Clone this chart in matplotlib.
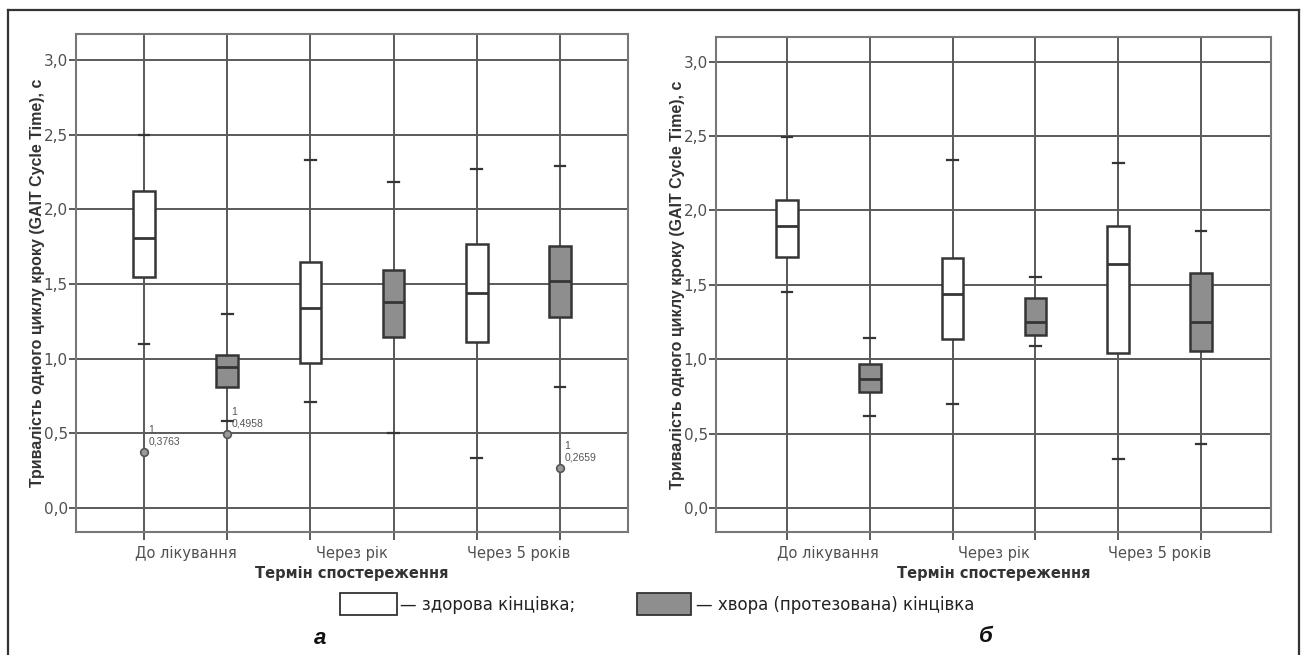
import matplotlib
matplotlib.use("Agg")
import matplotlib.pyplot as plt
from matplotlib.patches import Rectangle
from matplotlib.lines import Line2D

# ---------------- data ----------------
groups = ["До лікування", "Через рік", "Через 5 років"]
# order per panel: [healthy, diseased] x 3 periods
a_whislo = [1.10, 0.585, 0.71, 0.505, 0.335, 0.808]
a_q1     = [1.545, 0.81, 0.97, 1.143, 1.112, 1.279]
a_med    = [1.806, 0.944, 1.34, 1.38, 1.438, 1.52]
a_q3     = [2.12, 1.025, 1.648, 1.594, 1.77, 1.752]
a_whishi = [2.50, 1.30, 2.333, 2.18, 2.273, 2.288]
a_fliers = [[0.3763], [0.4958], [], [], [], [0.2659]]

b_whislo = [1.454, 0.616, 0.697, 1.089, 0.329, 0.428]
b_q1     = [1.689, 0.782, 1.136, 1.163, 1.044, 1.057]
b_med    = [1.895, 0.867, 1.438, 1.248, 1.638, 1.252]
b_q3     = [2.07, 0.966, 1.682, 1.409, 1.895, 1.581]
b_whishi = [2.493, 1.145, 2.341, 1.555, 2.321, 1.862]
b_fliers = [[], [], [], [], [], []]

ytick_vals = [0.0, 0.5, 1.0, 1.5, 2.0, 2.5, 3.0]
ytick_labels = ["0,0", "0,5", "1,0", "1,5", "2,0", "2,5", "3,0"]
ylabel = "Тривалість одного циклу кроку (GAIT Cycle Time), с"
xlabel = "Термін спостереження"
legend_healthy = "— здорова кінцівка;"
legend_sick = "— хвора (протезована) кінцівка"

W, H = 1301, 655
fig = plt.figure(figsize=(W / 100, H / 100), dpi=100)
fig.patch.set_facecolor("white")

NARROW = ["Liberation Sans Narrow", "DejaVu Sans Condensed", "DejaVu Sans"]
SANS = ["Liberation Sans", "DejaVu Sans"]
GRID = "#5a5a5a"
EDGE = "#353535"
FILL = "#8e8e8e"


def px(x, y):
    return x / W, 1 - y / H


def draw_panel(rect, ylim, xlim, whislo, q1, med, q3, whishi, fliers):
    ax = fig.add_axes(rect)
    n = len(med)
    pos = list(range(n))
    stats = []
    for i in range(n):
        stats.append(dict(whislo=whislo[i], q1=q1[i], med=med[i], q3=q3[i],
                          whishi=whishi[i], fliers=fliers[i]))
    # grid lines
    for y in ytick_vals:
        ax.axhline(y, color=GRID, lw=1.4, zorder=1)
    for p in pos:
        ax.axvline(p, color=GRID, lw=1.4, zorder=1)
    bp = ax.bxp(stats, positions=pos, widths=0.26, patch_artist=True,
                capwidths=0.13, showfliers=True,
                boxprops=dict(edgecolor=EDGE, linewidth=1.8),
                medianprops=dict(color=EDGE, linewidth=2.0),
                whiskerprops=dict(color=GRID, linewidth=1.4),
                capprops=dict(color=EDGE, linewidth=1.6),
                flierprops=dict(marker="o", markersize=5.5, markerfacecolor="#9a9a9a",
                                markeredgecolor="#555555", markeredgewidth=1.2))
    for i, b in enumerate(bp["boxes"]):
        b.set_facecolor("white" if i % 2 == 0 else FILL)
        b.set_zorder(3)
    for m in bp["medians"]:
        m.set_zorder(4)
    for i in range(n):
        for v in fliers[i]:
            ax.annotate("1\n" + f"{v:.4f}".replace(".", ","), (pos[i], v),
                        xytext=(3, 4), textcoords="offset points",
                        ha="left", va="bottom", fontsize=7.5, color="#555555",
                        family=SANS, linespacing=1.15)
    ax.set_xlim(*xlim)
    ax.set_ylim(*ylim)
    ax.set_yticks(ytick_vals)
    ax.set_yticklabels(ytick_labels, family=NARROW, fontsize=11, color="#505050")
    ax.set_xticks(pos)
    ax.set_xticklabels([""] * n)
    ax.set_xticks([0.5, 2.5, 4.5], minor=True)
    ax.set_xticklabels(groups, minor=True, family=NARROW, fontsize=10.5, color="#505050")
    ax.tick_params(axis="x", which="major", direction="out", length=6, width=1.4, color=GRID)
    ax.tick_params(axis="x", which="minor", length=0, pad=10)
    ax.tick_params(axis="y", direction="out", length=5, width=1.4, color=GRID, pad=1)
    for s in ax.spines.values():
        s.set_color("#777777")
        s.set_linewidth(1.5)
    ax.set_xlabel(xlabel, family=NARROW, fontsize=10.5, fontweight="bold",
                  color="#333333", labelpad=4)
    ax.set_ylabel(ylabel, family=SANS, fontsize=11.5,
                  fontweight="bold", color="#333333", labelpad=-1)
    return ax


draw_panel([76 / W, 1 - 532 / H, 552 / W, 498 / H], (-0.161, 3.174), (-0.817, 5.817),
           a_whislo, a_q1, a_med, a_q3, a_whishi, a_fliers)
draw_panel([716 / W, 1 - 532 / H, 555 / W, 495 / H], (-0.161, 3.166), (-0.857, 5.845),
           b_whislo, b_q1, b_med, b_q3, b_whishi, b_fliers)

# outer frame (left, top, right)
for (x0, y0), (x1, y1) in [((8, 660), (8, 10)), ((8, 10), (1299, 10)), ((1299, 10), (1299, 660))]:
    a0, b0 = px(x0, y0)
    a1, b1 = px(x1, y1)
    fig.add_artist(Line2D([a0, a1], [b0, b1], transform=fig.transFigure,
                          color="#333333", lw=1.6))

# legend
x0, y0 = px(340, 615)
fig.add_artist(Rectangle((x0, y0), 57 / W, 22 / H, transform=fig.transFigure,
                         facecolor="white", edgecolor="#333333", lw=1.3))
fig.text(400 / W, 1 - 605 / H, legend_healthy, family=NARROW, fontsize=12,
         color="#222222", va="center", ha="left")
x0, y0 = px(637, 615)
fig.add_artist(Rectangle((x0, y0), 54 / W, 22 / H, transform=fig.transFigure,
                         facecolor=FILL, edgecolor="#333333", lw=1.3))
fig.text(696 / W, 1 - 605 / H, legend_sick, family=NARROW, fontsize=12,
         color="#222222", va="center", ha="left")

# panel letters
fig.text(320 / W, 1 - 638 / H, "а", fontsize=16, fontweight="bold", style="italic",
         family=SANS, ha="center", va="center", color="#111111")
fig.text(986 / W, 1 - 637 / H, "б", fontsize=16, fontweight="bold", style="italic",
         family=SANS, ha="center", va="center", color="#111111")

fig.savefig("out.png", dpi=100, facecolor="white")
